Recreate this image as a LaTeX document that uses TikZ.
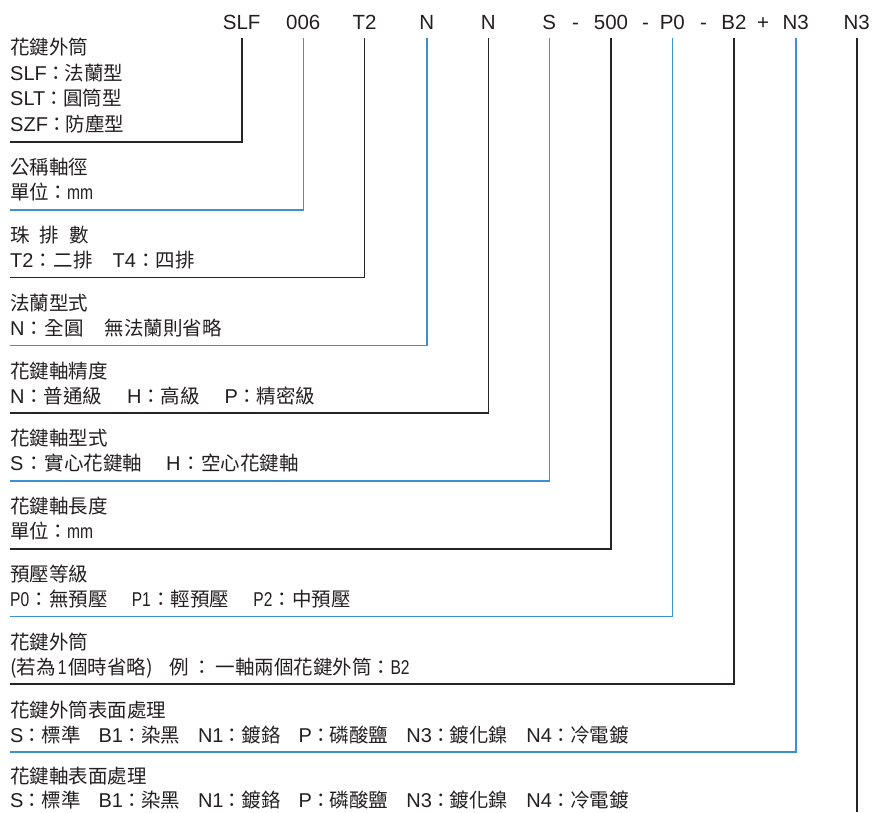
\documentclass[tikz,border=0pt]{standalone}
\usepackage{fontspec}
\setmainfont{Liberation Sans}
\newfontfamily\cjk{Noto Sans CJK TC}
\newfontfamily\narrowfont[FakeStretch=0.78]{Liberation Sans}
\newcommand\C[1]{{\cjk\fontsize{19.5}{19.5}\selectfont #1}}
\newcommand\Nw[1]{{\narrowfont #1}}
\newcommand\Co[1][18pt]{\makebox[#1][c]{\C{：}}}
\newcommand\Gp[1][23pt]{\hspace{#1}}
\definecolor{txtgray}{RGB}{35,31,32}
\definecolor{lineblack}{RGB}{40,36,37}
\definecolor{lineblue}{RGB}{60,145,210}
\begin{document}
\begin{tikzpicture}[x=1pt,y=-1pt,
  lbl/.style={anchor=base west, inner sep=0pt, font=\fontsize{20}{20}\selectfont, text=txtgray},
  hdr/.style={anchor=base, inner sep=0pt, font=\fontsize{20.5}{20.5}\selectfont, text=txtgray},
  blk/.style={draw=lineblack, line width=1.6pt},
  blu/.style={draw=lineblue, line width=1.6pt}]
\useasboundingbox (0,0) rectangle (874,812);
% header
\node[hdr] (h1) at (241.7,29.3) {SLF};
\node[hdr] (h2) at (303.3,29.3) {006};
\node[hdr] (h3) at (364.5,29.3) {T2};
\node[hdr] (h4) at (426.7,29.3) {N};
\node[hdr] (h5) at (488.3,29.3) {N};
\node[hdr] (h6) at (549.3,29.3) {S};
\node[hdr] (d1) at (575.5,29.3) {-};
\node[hdr] (h7) at (611,29.3) {500};
\node[hdr] (d2) at (645.5,29.3) {-};
\node[hdr] (h8) at (672.3,29.3) {P0};
\node[hdr] (d3) at (703.5,29.3) {-};
\node[hdr] (h9) at (734,29.3) {B2};
\node[hdr] (pl) at (763,29.3) {+};
\node[hdr] (h10) at (795.7,29.3) {N3};
\node[hdr] (h11) at (856.7,29.3) {N3};
% connector ends
\coordinate (t1) at (241.7,38);
\coordinate (t2) at (303.3,38);
\coordinate (t3) at (364.5,38);
\coordinate (t4) at (426.7,38);
\coordinate (t5) at (488.3,38);
\coordinate (t6) at (549.3,38);
\coordinate (t7) at (611,38);
\coordinate (t8) at (672.3,38);
\coordinate (t9) at (734,38);
\coordinate (t10) at (795.7,38);
\coordinate (t11) at (856.7,38);
\coordinate (e1) at (10,142);
\coordinate (e2) at (10,209.8);
\coordinate (e3) at (10,277.6);
\coordinate (e4) at (10,345.3);
\coordinate (e5) at (10,413.1);
\coordinate (e6) at (10,480.9);
\coordinate (e7) at (10,548.7);
\coordinate (e8) at (10,616.5);
\coordinate (e9) at (10,684.2);
\coordinate (e10) at (10,752.0);
\coordinate (e11) at (856.7,812);
\draw[blk] (t1) |- (e1);
\draw[blu] (t2) |- (e2);
\draw[blk] (t3) |- (e3);
\draw[blu] (t4) |- (e4);
\draw[blk] (t5) |- (e5);
\draw[blu] (t6) |- (e6);
\draw[blk] (t7) |- (e7);
\draw[blu] (t8) |- (e8);
\draw[blk] (t9) |- (e9);
\draw[blu] (t10) |- (e10);
\draw[blk] (t11) -- (e11);
% block 1
\node[lbl] (r1a) at (10,54.5) {\C{花鍵外筒}};
\node[lbl] (r1b) at (10,80) {SLF\Co\C{法蘭型}};
\node[lbl] (r1c) at (10,105.5) {SLT\Co\C{圓筒型}};
\node[lbl] (r1d) at (10,131) {SZF\Co\C{防塵型}};
% block 2
\node[lbl] (r2a) at (10,174.8) {\C{公稱軸徑}};
\node[lbl] (r2b) at (10,199.8) {\C{單位}\Co\Nw{mm}};
% block 3
\node[lbl] (r3a) at (10,242.6) {\C{珠}\hspace{10pt}\C{排}\hspace{10pt}\C{數}};
\node[lbl] (r3b) at (10,267.6) {T2\Co[20pt]\C{二排}\Gp[20pt]T4\Co[20pt]\C{四排}};
% block 4
\node[lbl] (r4a) at (10,310.3) {\C{法蘭型式}};
\node[lbl] (r4b) at (10,335.3) {N\Co[20pt]\C{全圓}\Gp[21pt]\C{無法蘭則省略}};
% block 5
\node[lbl] (r5a) at (10,378.1) {\C{花鍵軸精度}};
\node[lbl] (r5b) at (10,403.1) {N\Co[19pt]\C{普通級}\Gp[25pt]H\Co[19pt]\C{高級}\Gp[25pt]P\Co[19pt]\C{精密級}};
% block 6
\node[lbl] (r6a) at (10,445.9) {\C{花鍵軸型式}};
\node[lbl] (r6b) at (10,470.9) {S\Co[21pt]\C{實心花鍵軸}\Gp[24pt]H\Co[21pt]\C{空心花鍵軸}};
% block 7
\node[lbl] (r7a) at (10,513.7) {\C{花鍵軸長度}};
\node[lbl] (r7b) at (10,538.7) {\C{單位}\Co\Nw{mm}};
% block 8
\node[lbl] (r8a) at (10,581.5) {\C{預壓等級}};
\node[lbl] (r8b) at (10,606.5) {\Nw{P0}\Co[20pt]\C{無預壓}\Gp[24pt]\Nw{P1}\Co[20pt]\C{輕預壓}\Gp[24pt]\Nw{P2}\Co[20pt]\C{中預壓}};
% block 9
\node[lbl] (r9a) at (10,649.2) {\C{花鍵外筒}};
\node[lbl] (r9b) at (10,674.2) {\C{(若為}\hspace{2pt}\Nw{1}\hspace{2pt}\C{個時省略)}\hspace{16pt}\C{例}\Co[27pt]\C{一軸兩個花鍵外筒}\Co[19pt]\Nw{B2}};
% block 10
\node[lbl] (r10a) at (10,717.0) {\C{花鍵外筒表面處理}};
\node[lbl] (r10b) at (10,742.0) {S\Co[18pt]\C{標準}\Gp[18pt]B1\Co[18pt]\C{染黑}\Gp[18pt]N1\Co[18pt]\C{鍍鉻}\Gp[18pt]P\Co[18pt]\C{磷酸鹽}\Gp[18pt]N3\Co[18pt]\C{鍍化鎳}\Gp[18pt]N4\Co[18pt]\C{冷電鍍}};
% block 11
\node[lbl] (r11a) at (10,783) {\C{花鍵軸表面處理}};
\node[lbl] (r11b) at (10,807.5) {S\Co[18pt]\C{標準}\Gp[18pt]B1\Co[18pt]\C{染黑}\Gp[18pt]N1\Co[18pt]\C{鍍鉻}\Gp[18pt]P\Co[18pt]\C{磷酸鹽}\Gp[18pt]N3\Co[18pt]\C{鍍化鎳}\Gp[18pt]N4\Co[18pt]\C{冷電鍍}};
\end{tikzpicture}
\end{document}
